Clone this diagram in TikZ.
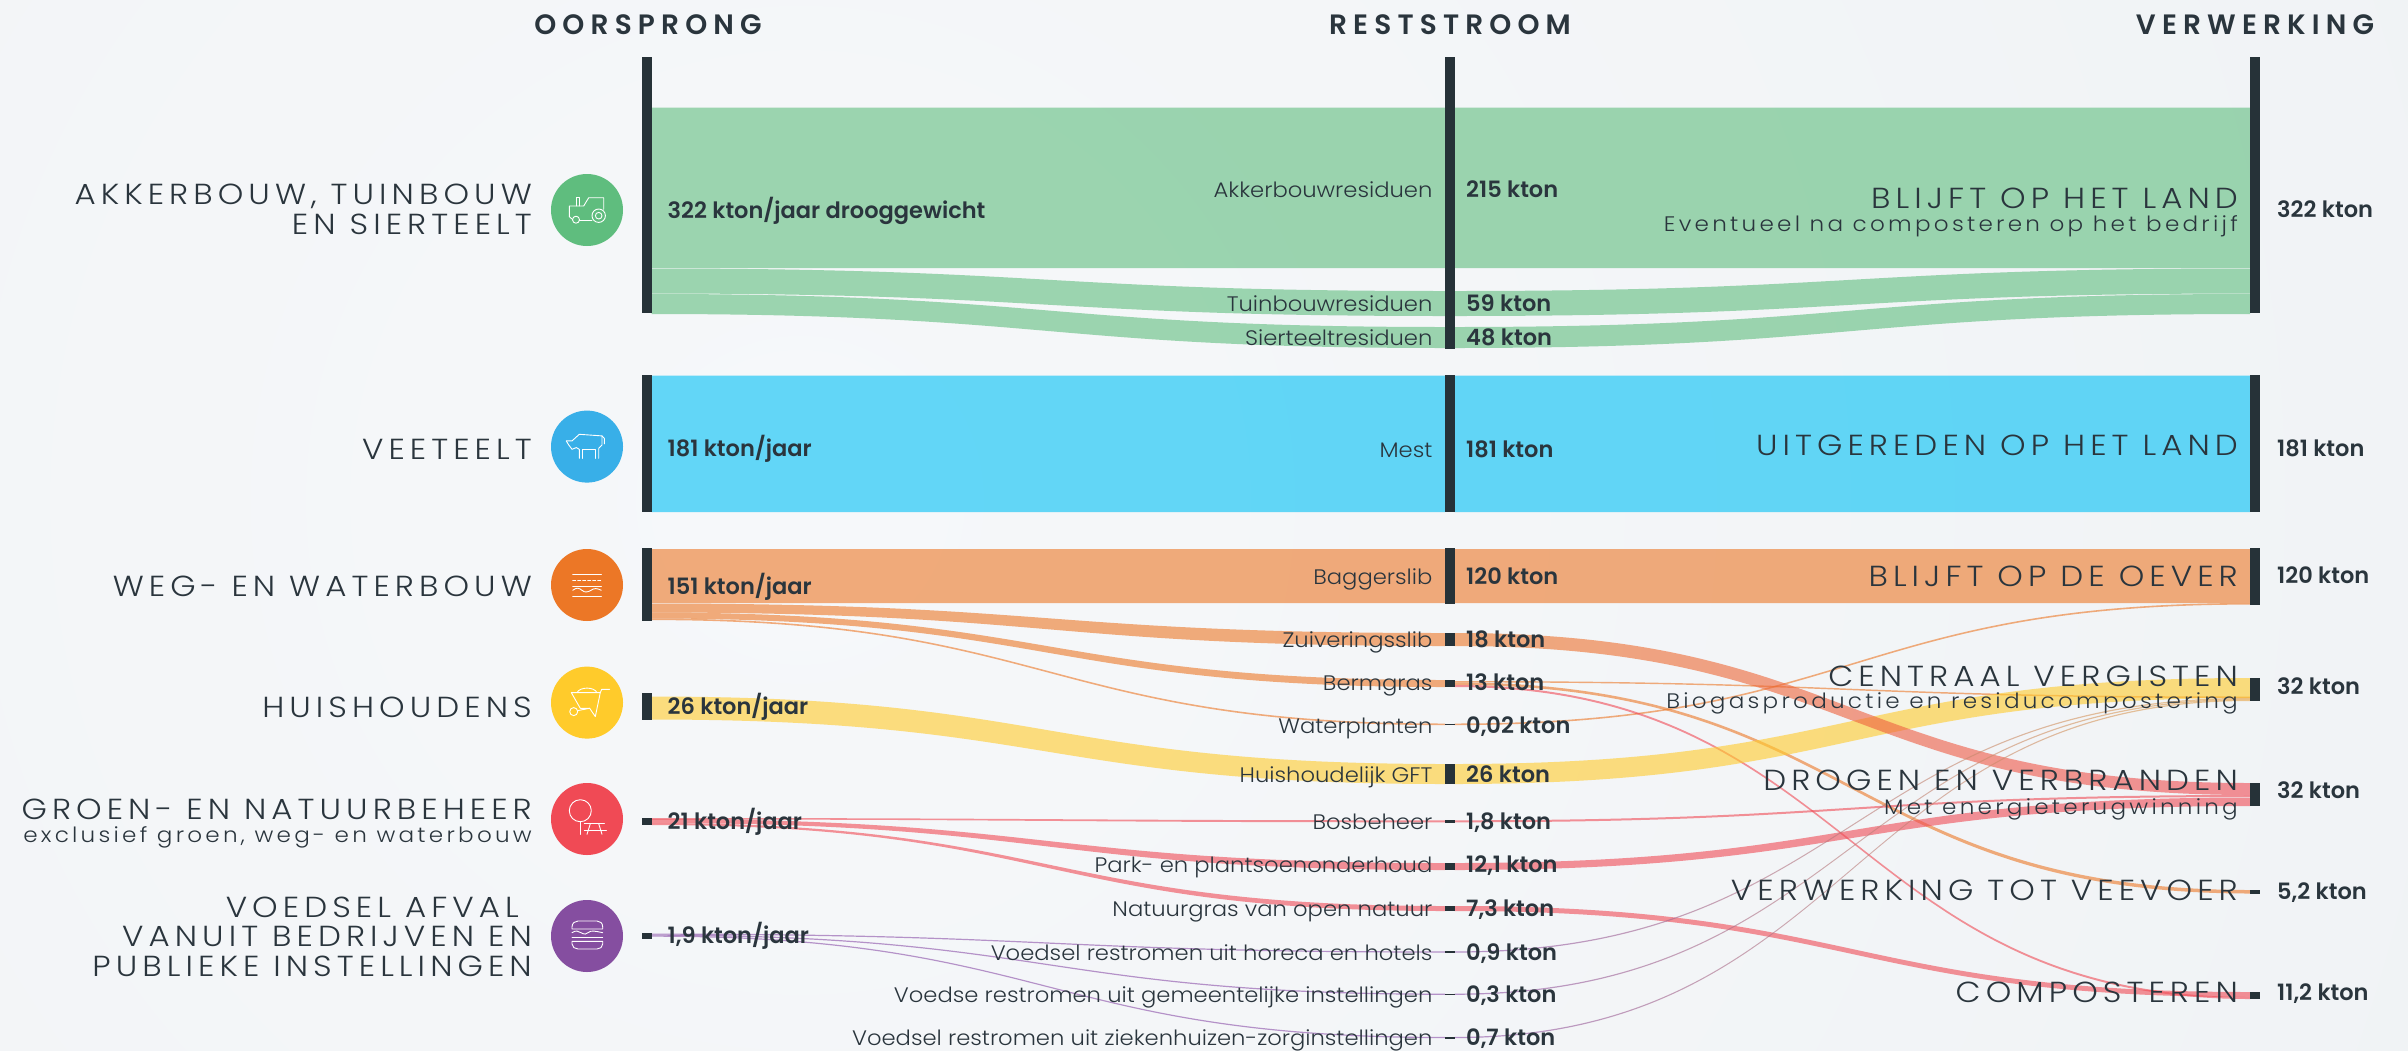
\documentclass[tikz,border=0pt]{standalone}
\usepackage{fontspec}
\setmainfont{Poppins}
\usetikzlibrary{calc,backgrounds}
\newfontfamily\catf[LetterSpace=17.5,FakeStretch=1.12]{Poppins Light}
\newfontfamily\subf[LetterSpace=15.5,FakeStretch=1.1]{Poppins Light}
\newfontfamily\itemf[FakeStretch=1.08]{Poppins Light}
\newfontfamily\valf{Poppins SemiBold}
\newfontfamily\headf[LetterSpace=22]{Poppins SemiBold}
\definecolor{ink}{HTML}{2A353D}
\definecolor{barc}{HTML}{263238}
\definecolor{cgreen}{HTML}{5FBD7E}
\definecolor{cblue}{HTML}{38AFE8}
\definecolor{fblue}{HTML}{00C0F5}
\definecolor{corange}{HTML}{EC7726}
\definecolor{cyellow}{HTML}{FFCB2B}
\definecolor{cred}{HTML}{F04A55}
\definecolor{cpurple}{HTML}{854EA0}
\definecolor{fpurple}{HTML}{8A4FA8}
\definecolor{fochre}{HTML}{E8A84C}
\definecolor{bgin}{HTML}{F6F8FA}
\definecolor{bgout}{HTML}{EBEEF1}
\tikzset{
  barbox/.style={fill=barc,draw=none,inner sep=0pt,outer sep=0pt,minimum width=9.5pt,anchor=north west},
  iconcircle/.style={circle,fill=#1,draw=none,minimum size=72pt,inner sep=0pt},
  iconline/.style={draw=white,line width=.9pt,line join=round,line cap=round},
  catlabel/.style={font=\fontsize{29}{29.3}\selectfont\catf,text=ink,align=right,anchor=base east,inner sep=0pt},
  sublabel/.style={font=\fontsize{21}{23}\selectfont\subf,text=ink,align=right,anchor=base east,inner sep=0pt},
  itemlabel/.style={font=\fontsize{21}{24}\selectfont\itemf,text=ink,anchor=mid east,inner sep=0pt,yshift=-5.5pt},
  vallabel/.style={font=\fontsize{22.5}{24}\selectfont\valf,text=ink,anchor=mid west,inner sep=0pt,yshift=-5.5pt},
  headlabel/.style={font=\fontsize{28}{30}\selectfont\headf,text=ink,anchor=base,inner sep=0pt},
  flowfill/.style={fill=#1,opacity=.6,draw=none}
}
\newcommand\barnode[4]{\node[barbox,minimum height={(#4-#3)*1pt}] (#1) at (#2,#3) {};}
\newcommand\flow[7]{%
  \coordinate (fm) at ($(#2.east)!.5!(#5.west)$);
  \fill[flowfill=#1] (#2.east |- 0,#3) .. controls (fm |- 0,#3) and (fm |- 0,#6) .. (#5.west |- 0,#6)
    -- (#5.west |- 0,#7) .. controls (fm |- 0,#7) and (fm |- 0,#4) .. (#2.east |- 0,#4) -- cycle;}
\newcommand\gflow[8]{%
  \coordinate (fm) at ($(#3.east)!.5!(#6.west)$);
  \begin{scope}
  \clip (#3.east |- 0,#4) .. controls (fm |- 0,#4) and (fm |- 0,#7) .. (#6.west |- 0,#7)
    -- (#6.west |- 0,#8) .. controls (fm |- 0,#8) and (fm |- 0,#5) .. (#3.east |- 0,#5) -- cycle;
  \shade[left color=#1,right color=#2,opacity=.6] (#3.east |- 0,0) rectangle (#6.west |- 0,1050);
  \end{scope}}
\begin{document}
\begin{tikzpicture}[x=1pt,y=-1pt]
\useasboundingbox (0,0) rectangle (2408,1050);

% bars
\barnode{lA}{642}{57}{313}
\barnode{lB}{642}{375}{512}
\barnode{lC}{642}{548}{621}
\barnode{lD}{642}{693}{720}
\barnode{lE}{642}{818}{825}
\barnode{lF}{642}{933}{938.5}
\barnode{mA}{1445}{57}{349}
\barnode{mB}{1445}{375}{512}
\barnode{mC}{1445}{548}{604}
\barnode{mZ}{1445}{633}{646}
\barnode{mBe}{1445}{680}{687}
\barnode{mW}{1445}{723.5}{725}
\barnode{mG}{1445}{764}{784}
\barnode{mBo}{1445}{820}{822.6}
\barnode{mP}{1445}{863}{870}
\barnode{mN}{1445}{906}{911}
\barnode{mH}{1445}{951}{953}
\barnode{mGe}{1445}{993.5}{995}
\barnode{mZi}{1445}{1036.5}{1038.5}
\barnode{rA}{2250}{57}{313}
\barnode{rB}{2250}{375}{512}
\barnode{rC}{2250}{548}{604.5}
\barnode{rD}{2250}{678}{701}
\barnode{rE}{2250}{783}{806}
\barnode{rF}{2250}{890}{893.5}
\barnode{rG}{2250}{992}{999}

\begin{pgfonlayer}{background}
\begin{scope}
\clip (0,0) rectangle (2408,1050);
\shade[inner color=bgin,outer color=bgout] (800,500) circle (3300);
\end{scope}
% green
\flow{cgreen}{lA}{107.5}{268}{mA}{107.5}{268}
\flow{cgreen}{mA}{107.5}{268}{rA}{107.5}{268}
\flow{cgreen}{lA}{268.5}{293.5}{mA}{291}{316}
\flow{cgreen}{lA}{294}{314}{mA}{327}{348}
\flow{cgreen}{mA}{291}{316}{rA}{268.5}{293.5}
\flow{cgreen}{mA}{327}{348}{rA}{294}{314}
% blue
\flow{fblue}{lB}{375.5}{512}{mB}{375.5}{512}
\flow{fblue}{mB}{375.5}{512}{rB}{375.5}{512}
% orange
\flow{corange}{lC}{549}{603}{mC}{549}{603}
\flow{corange}{mC}{549}{603}{rC}{549}{603}
\flow{corange}{lC}{603.5}{612.5}{mZ}{633}{646}
\flow{corange}{lC}{612.5}{618.5}{mBe}{680}{687}
\flow{corange}{lC}{618.5}{620.1}{mW}{723.5}{725.1}
\flow{corange}{mW}{723.5}{725.1}{rC}{603}{604.6}
\flow{corange}{mBe}{681}{682.4}{rD}{696.5}{698}
\flow{corange}{mBe}{682.4}{685}{rF}{890}{893.5}
\flow{cred}{mBe}{685}{687}{rG}{997}{999}
% yellow
\flow{cyellow}{lD}{696.5}{719.5}{mG}{764}{784}
\flow{cyellow}{mG}{764}{784}{rD}{678}{698}
% red
\flow{cred}{lE}{818}{819.5}{mBo}{820.3}{822.3}
\flow{cred}{lE}{819}{823}{mP}{863}{870}
\flow{cred}{lE}{823}{825}{mN}{906}{911}
\flow{cred}{mBo}{820.3}{822.3}{rE}{795}{797}
\flow{cred}{mP}{863}{870}{rE}{797.5}{806}
\flow{cred}{mN}{906}{911}{rG}{992}{997}
\gflow{corange}{cred}{mZ}{633}{646}{rE}{783}{795}
% purple
\flow{fpurple}{lF}{933.5}{934.7}{mH}{951.4}{952.6}
\flow{fpurple}{lF}{934.5}{935.7}{mGe}{993.6}{994.8}
\flow{fpurple}{lF}{935.5}{936.7}{mZi}{1036.9}{1038.1}
\gflow{fpurple}{fochre}{mH}{951.4}{952.6}{rD}{697.8}{699}
\gflow{fpurple}{fochre}{mGe}{993.6}{994.8}{rD}{698.8}{700}
\gflow{fpurple}{fochre}{mZi}{1036.9}{1038.1}{rD}{699.8}{701}
\end{pgfonlayer}

% icon circles
\node[iconcircle=cgreen] (i1) at (587,210) {};
\node[iconcircle=cblue] (i2) at (587,446.6) {};
\node[iconcircle=corange] (i3) at (587,585) {};
\node[iconcircle=cyellow] (i4) at (587,702.6) {};
\node[iconcircle=cred] (i5) at (587,819) {};
\node[iconcircle=cpurple] (i6) at (587,936) {};

\begin{scope}[shift={(i1.center)}]
\draw[iconline] (-15,9) -- (-17.7,6.7) -- (-17.7,-4) -- (-3.3,-4) -- (1.7,-12.3) -- (16.7,-12.3) -- (16.7,-.7);
\draw[iconline] (-10.7,-4) -- (-10.7,-12.7) -- (-8,-12.7) -- (-8,-4);
\draw[iconline] (-7.7,10) -- (5,10);
\draw[iconline] (-11,9.7) circle (3.5);
\draw[iconline] (11.7,5.7) circle (6.7);
\draw[iconline] (11.7,5.7) circle (3.3);
\end{scope}
\begin{scope}[shift={(i2.center)}]
\draw[iconline] (-20.7,-5.7) -- (-15,-5.7) -- (-7.7,-12.3) -- (15,-10.7) -- (17.3,-8.3) -- (17.3,-2.7);
\draw[iconline] (15,-10.7) -- (15,-1.7) -- (11.7,1.7) -- (11.7,11.7);
\draw[iconline] (8.3,11.7) -- (8.3,2.7) -- (-5,2.7) -- (-5,11.7);
\draw[iconline] (-7.7,11.7) -- (-7.7,2.7) -- (-10.7,1) -- (-15,2.7) -- (-18.3,-1.7) -- (-20.7,-5.7);
\end{scope}
\begin{scope}[shift={(i3.center)}]
\draw[iconline] (-14.3,-10.3) -- (14.3,-10.3);
\draw[iconline,dash pattern=on 3pt off 2pt] (-14.3,-5) -- (14.3,-5);
\draw[iconline] (-14.3,1) -- (14.3,1);
\draw[iconline] (-14.3,5.3) .. controls (-10,2) and (-8,3) .. (-5,5.3) .. controls (-2,8) and (1,7) .. (4,5.3) .. controls (7,3) and (10,3) .. (14.3,5.3);
\draw[iconline] (-14.3,11) -- (14.3,11);
\end{scope}
\begin{scope}[shift={(i4.center)}]
\draw[iconline] (-15.7,-10) -- (13.3,-10) -- (8.3,14) -- (2.7,5.7) -- (-6.7,5.7) -- cycle;
\draw[iconline] (-13.3,9) circle (4);
\draw[iconline] (-9.3,8) -- (2.7,5.7);
\draw[iconline] (13.3,-10) -- (14.7,-13.3) -- (22.7,-13.3);
\draw[iconline] (-10,-10) .. controls (-7,-16) and (7,-16) .. (10,-10);
\end{scope}
\begin{scope}[shift={(i5.center)}]
\draw[iconline] (-6.7,-8.3) circle (11);
\draw[iconline] (-6.7,2.7) -- (-6.7,15.3);
\draw[iconline] (-2.7,4.7) -- (17.3,4.7);
\draw[iconline] (-2.7,11) -- (19.3,11);
\draw[iconline] (3.3,4.7) -- (0,15.3);
\draw[iconline] (11.7,4.7) -- (15,15.3);
\end{scope}
\begin{scope}[shift={(i6.center)}]
\draw[iconline] (-15,-7) -- (-15,-9) .. controls (-15,-13) and (-12,-15) .. (-9,-15) -- (10,-15) .. controls (13,-15) and (15.7,-13) .. (15.7,-9) -- (15.7,-7) -- cycle;
\draw[iconline] (-15,-3.3) .. controls (-11,-6) and (-9,-5) .. (-6,-3.3) .. controls (-3,-1.5) and (0,-1.5) .. (1,-3.3) .. controls (4,-6) and (8,-5) .. (15.7,-3.3);
\draw[iconline] (-15,1.7) -- (15.7,1.7);
\draw[iconline] (-15,5.3) -- (15.7,5.3) -- (15.7,8) .. controls (15.7,11) and (13,13) .. (10,13) -- (-9,13) .. controls (-12,13) and (-15,11) .. (-15,8) -- cycle;
\end{scope}

% headers
\node[headlabel] (h1) at (648,34) {OORSPRONG};
\node[headlabel] (h2) at (1450,34) {RESTSTROOM};
\node[headlabel] (h3) at (2255,34) {VERWERKING};

% category labels
\node[catlabel] (c1) at (532,234) {AKKERBOUW, TUINBOUW\\EN SIERTEELT};
\node[catlabel] (c2) at (532,459) {VEETEELT};
\node[catlabel] (c3) at (532,596) {WEG- EN WATERBOUW};
\node[catlabel] (c4) at (532,717) {HUISHOUDENS};
\node[catlabel] (c5) at (532,819) {GROEN- EN NATUURBEHEER};
\node[sublabel] (c5s) at (532,842) {exclusief groen, weg- en waterbouw};
\node[catlabel] (c6) at (532,976) {VOEDSEL AFVAL\hspace*{13pt}\\VANUIT BEDRIJVEN EN\hspace*{13pt}\\PUBLIEKE INSTELLINGEN};

% source values
\node[vallabel] (s1) at (667.5,210) {322 kton/jaar drooggewicht};
\node[vallabel] (s2) at (667.5,448.6) {181 kton/jaar};
\node[vallabel] (s3) at (667.5,586) {151 kton/jaar};
\node[vallabel] (s4) at (667.5,706.6) {26 kton/jaar};
\node[vallabel] (s5) at (667.5,821) {21 kton/jaar};
\node[vallabel] (s6) at (667.5,935) {1,9 kton/jaar};

% stream labels
\node[itemlabel] (t1) at (1432.6,189) {Akkerbouwresiduen};
\node[itemlabel] (t2) at (1432.6,303) {Tuinbouwresiduen};
\node[itemlabel] (t3) at (1432.6,337) {Sierteeltresiduen};
\node[itemlabel] (t4) at (1432.6,449) {Mest};
\node[itemlabel] (t5) at (1432.6,576.5) {Baggerslib};
\node[itemlabel] (t6) at (1432.6,639) {Zuiveringsslib};
\node[itemlabel] (t7) at (1432.6,682) {Bermgras};
\node[itemlabel] (t8) at (1432.6,725.5) {Waterplanten};
\node[itemlabel] (t9) at (1432.6,774) {Huishoudelijk GFT};
\node[itemlabel] (t10) at (1432.6,821.5) {Bosbeheer};
\node[itemlabel] (t11) at (1432.6,864) {Park- en plantsoenonderhoud};
\node[itemlabel] (t12) at (1432.6,908) {Natuurgras van open natuur};
\node[itemlabel] (t13) at (1432.6,952) {Voedsel restromen uit horeca en hotels};
\node[itemlabel] (t14) at (1432.6,994) {Voedse restromen uit gemeentelijke instellingen};
\node[itemlabel] (t15) at (1432.6,1037) {Voedsel restromen uit ziekenhuizen-zorginstellingen};

% stream values
\node[vallabel] (v1) at (1466,189) {215 kton};
\node[vallabel] (v2) at (1466,303) {59 kton};
\node[vallabel] (v3) at (1466,337) {48 kton};
\node[vallabel] (v4) at (1466,449) {181 kton};
\node[vallabel] (v5) at (1466,576.5) {120 kton};
\node[vallabel] (v6) at (1466,639) {18 kton};
\node[vallabel] (v7) at (1466,682) {13 kton};
\node[vallabel] (v8) at (1466,725.5) {0,02 kton};
\node[vallabel] (v9) at (1466,774) {26 kton};
\node[vallabel] (v10) at (1466,821.5) {1,8 kton};
\node[vallabel] (v11) at (1466,864) {12,1 kton};
\node[vallabel] (v12) at (1466,908) {7,3 kton};
\node[vallabel] (v13) at (1466,952) {0,9 kton};
\node[vallabel] (v14) at (1466,994) {0,3 kton};
\node[vallabel] (v15) at (1466,1037) {0,7 kton};

% processing labels
\node[catlabel] (p1) at (2238,208.6) {BLIJFT OP HET LAND};
\node[sublabel] (p1s) at (2238,231.6) {Eventueel na composteren op het bedrijf};
\node[catlabel] (p2) at (2238,455) {UITGEREDEN OP HET LAND};
\node[catlabel] (p3) at (2238,586) {BLIJFT OP DE OEVER};
\node[catlabel] (p4) at (2238,686) {CENTRAAL VERGISTEN};
\node[sublabel] (p4s) at (2238,708.6) {Biogasproductie en residucompostering};
\node[catlabel] (p5) at (2238,790.5) {DROGEN EN VERBRANDEN};
\node[sublabel] (p5s) at (2238,814) {Met energieterugwinning};
\node[catlabel] (p6) at (2238,900) {VERWERKING TOT VEEVOER};
\node[catlabel] (p7) at (2238,1002) {COMPOSTEREN};

% processing values
\node[vallabel] (e1) at (2277,209.6) {322 kton};
\node[vallabel] (e2) at (2277,448.6) {181 kton};
\node[vallabel] (e3) at (2277,575) {120 kton};
\node[vallabel] (e4) at (2277,686.7) {32 kton};
\node[vallabel] (e5) at (2277,790) {32 kton};
\node[vallabel] (e6) at (2277,891) {5,2 kton};
\node[vallabel] (e7) at (2277,992.6) {11,2 kton};
\end{tikzpicture}
\end{document}
